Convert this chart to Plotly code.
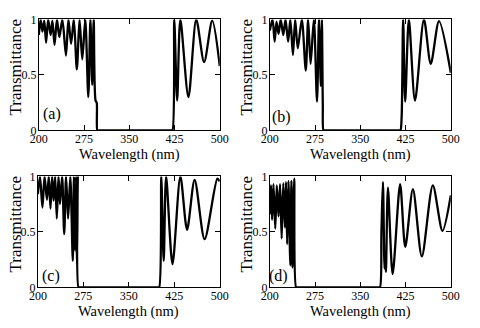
import plotly.graph_objects as go

# Transmittance spectra of four structures, (a)-(d)
wl_a = [200, 203, 206, 209, 212, 215.5, 219.5, 222.5, 226, 230, 234, 239, 245, 249,
        253.5, 258, 263, 267.5, 272, 277, 282, 285.5, 288.5, 291, 294, 296, 297, 299,
        419.5, 421.5, 424.5, 429.3, 434.6, 448, 461, 474, 487.5, 500]
t_a = [0.86, 1.0, 0.89, 0.99, 0.79, 1.0, 0.86, 0.99, 0.77, 1.0, 0.84, 1.0, 0.675, 1.0,
       0.78, 1.0, 0.55, 1.0, 0.64, 1.0, 0.30, 1.0, 0.41, 1.0, 0.27, 0.25, 0.0, 0.0,
       0.0, 0.0, 1.0, 0.27, 1.0, 0.30, 1.0, 0.615, 0.99, 0.58]

wl_b = [200, 204.5, 208, 211, 214.4, 218, 222.3, 226, 230.3, 234, 238.3, 242, 246.3,
        253, 259.6, 263.5, 267.6, 273, 278.2, 281.5, 284.6, 286.3, 287.8, 289, 291,
        414.5, 416.5, 418.5, 421, 424.4, 430.5, 440.7, 455.5, 466.8, 480.5, 500]
t_b = [0.90, 1.0, 0.80, 0.98, 0.87, 1.0, 0.86, 1.0, 0.80, 1.0, 0.68, 1.0, 0.74,
       1.0, 0.54, 1.0, 0.60, 1.0, 0.26, 1.0, 0.40, 1.0, 0.24, 0.0, 0.0,
       0.0, 0.0, 0.12, 1.0, 0.26, 1.0, 0.27, 1.0, 0.60, 0.985, 0.52]

wl_c = [200, 203.5, 207.5, 211, 215, 218, 220.8, 223.5, 226, 228.5, 231.2, 234, 236.5,
        240, 243.4, 246.5, 249.8, 253.5, 257.6, 259.5, 261.4, 263, 264.6, 265.8, 267,
        269, 398, 400, 403.5, 407.5, 411.5, 422, 435, 446, 458.5, 475, 496, 500]
t_c = [0.84, 1.0, 0.72, 1.0, 0.79, 1.0, 0.71, 1.0, 0.78, 1.0, 0.62, 1.0, 0.75,
       1.0, 0.48, 1.0, 0.62, 1.0, 0.24, 1.0, 0.33, 1.0, 0.21, 1.0, 0.0,
       0.0, 0.0, 0.0, 1.0, 0.24, 1.0, 0.21, 1.0, 0.52, 0.97, 0.435, 0.98, 0.955]

wl_d = [200, 202, 203.7, 206, 209, 211.5, 214.4, 217, 219.6, 222.3, 225, 226.8, 228.7,
        230.8, 234, 235.8, 237.5, 240.5, 243.5, 245.5, 380, 382.5, 385, 387.5, 390.2,
        391.5, 392.5, 395.8, 403.6, 416, 424.5, 437.2, 452, 470.2, 486.2, 500]
t_d = [0.66, 0.92, 0.61, 0.93, 0.53, 0.92, 0.64, 0.93, 0.44, 0.94, 0.54, 0.95, 0.39,
       0.96, 0.20, 0.96, 0.18, 0.98, 0.0, 0.0, 0.0, 0.0, 0.5, 0.95, 0.17,
       0.30, 0.14, 0.90, 0.12, 0.93, 0.365, 0.885, 0.28, 0.92, 0.51, 0.83]

panel_labels = ["(a)", "(b)", "(c)", "(d)"]
x_ticks = [200, 275, 350, 425, 500]
y_ticks = [0, 0.5, 1]
y_tick_text = ["0", "0.5", "1"]

series = [(wl_a, t_a), (wl_b, t_b), (wl_c, t_c), (wl_d, t_d)]

W, H = 480, 328
# plot-area rectangles in pixels: (left, right, top, bottom)
rects = [(31, 219, 13, 129), (271, 459, 13, 129),
         (30, 219, 177, 293), (271, 459, 177, 293)]
ytitle_x = [7, 247, 7, 247]
label_pos = [(0.073, 0.147), (0.062, 0.12), (0.07, 0.106), (0.05, 0.106)]

SERIF = "Liberation Serif"

fig = go.Figure()
layout = dict(width=W, height=H, margin=dict(l=0, r=0, t=0, b=0),
              paper_bgcolor="white", plot_bgcolor="white", showlegend=False,
              annotations=[])

for i, ((wl, tr), (l, r, t, b)) in enumerate(zip(series, rects)):
    n = "" if i == 0 else str(i + 1)
    fig.add_trace(go.Scatter(x=wl, y=tr, mode="lines", xaxis="x" + n, yaxis="y" + n,
                             line=dict(color="black", width=2.3, shape="spline",
                                       smoothing=0.8)))
    common = dict(showline=True, linecolor="black", linewidth=1, mirror="ticks",
                  ticks="inside", ticklen=5, tickcolor="black", showgrid=False,
                  zeroline=False, tickfont=dict(family=SERIF, size=12, color="black"))
    layout["xaxis" + n] = dict(domain=[l / W, r / W], range=[200, 500],
                               tickvals=x_ticks, anchor="y" + n,
                               ticklabelstandoff=-3, **common)
    layout["yaxis" + n] = dict(domain=[1 - b / H, 1 - t / H], range=[0, 1],
                               tickvals=y_ticks, ticktext=y_tick_text,
                               anchor="x" + n, ticklabelstandoff=-1, **common)
    # x-axis title
    layout["annotations"].append(dict(
        text="Wavelength (nm)", xref="paper", yref="paper",
        x=(l + r) / 2 / W, y=1 - (b + 25.3) / H, xanchor="center", yanchor="middle",
        showarrow=False, font=dict(family=SERIF, size=14.5, color="black")))
    # y-axis title
    layout["annotations"].append(dict(
        text="Transmittance", xref="paper", yref="paper", textangle=-90,
        x=ytitle_x[i] / W, y=1 - (t + 49.5) / H, xanchor="center", yanchor="middle",
        showarrow=False, font=dict(family=SERIF, size=17, color="black")))
    # panel label
    lx, ly = label_pos[i]
    layout["annotations"].append(dict(
        text=panel_labels[i], xref="x" + n + " domain", yref="y" + n + " domain",
        x=lx, y=ly, xanchor="center", yanchor="middle", showarrow=False,
        font=dict(family=SERIF, size=16, color="black")))

fig.update_layout(**layout)
fig.write_html("out.html")
